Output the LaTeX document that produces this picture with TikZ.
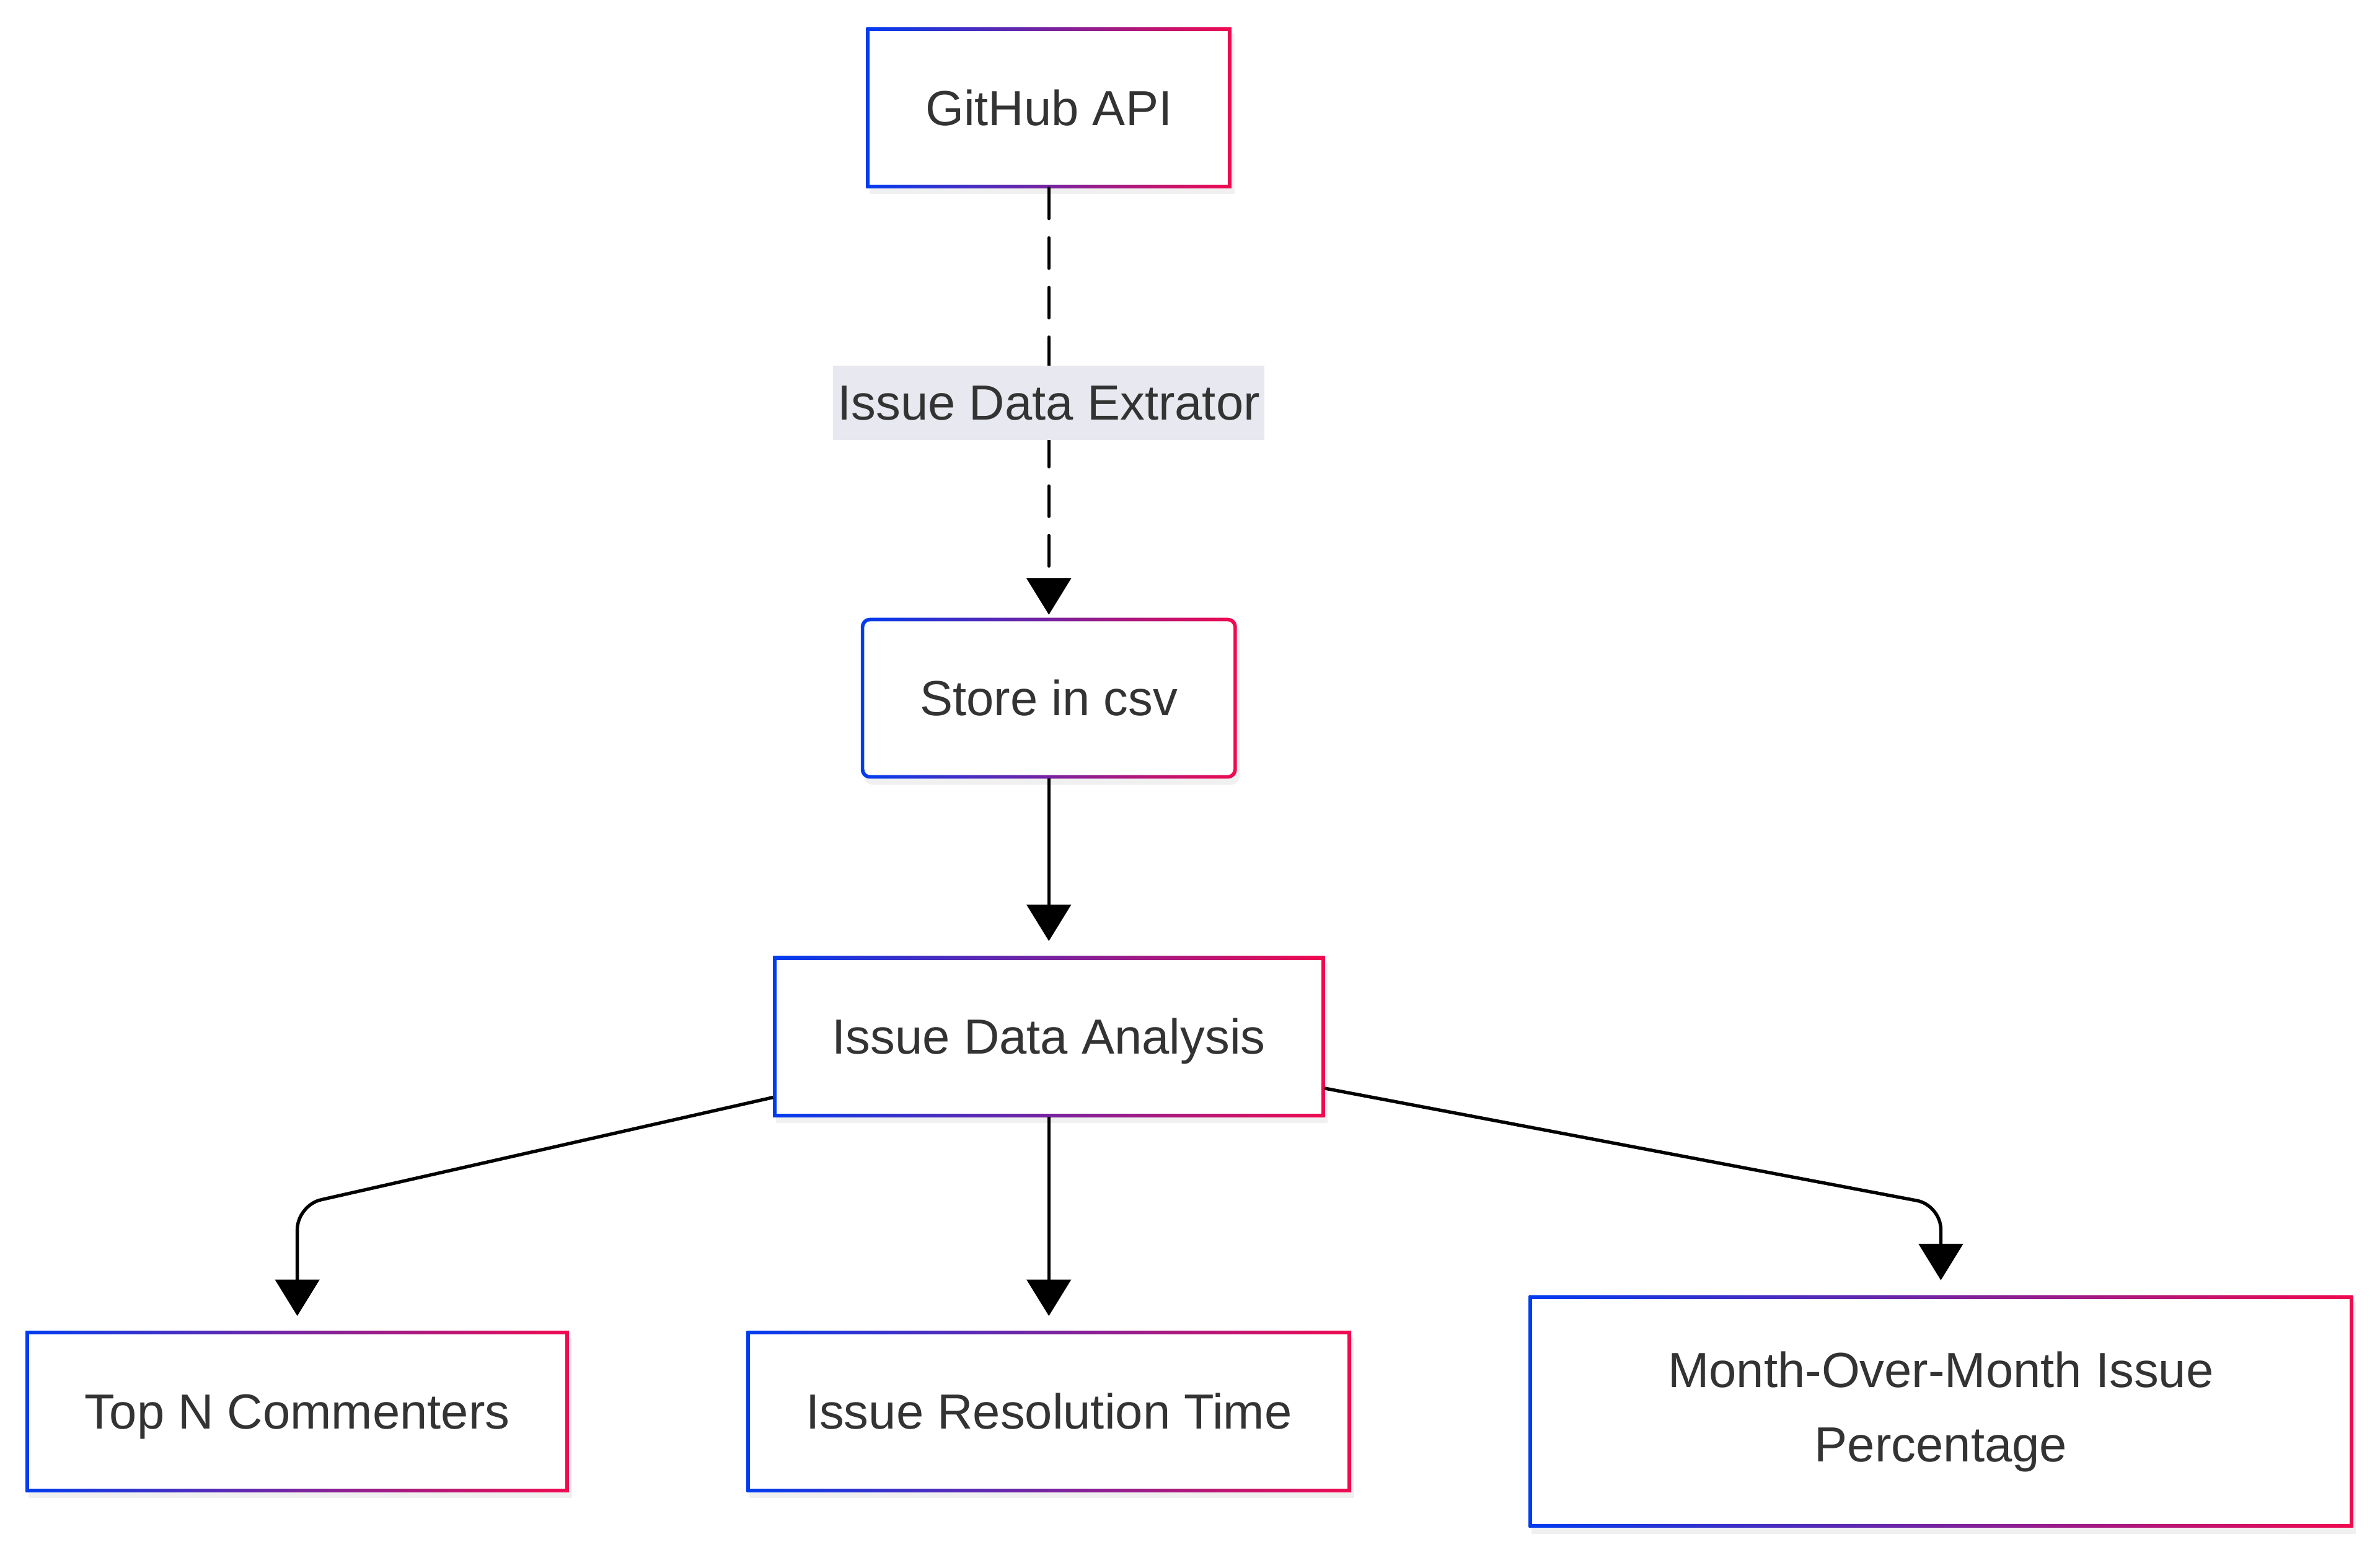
\documentclass[tikz,border=0pt]{standalone}
\usepackage{fontspec}
\setmainfont{Liberation Sans}
\usetikzlibrary{arrows.meta, positioning, shadows}

\definecolor{gblue}{RGB}{0,60,240}
\definecolor{gred}{RGB}{240,10,80}
\definecolor{textgray}{RGB}{51,51,51}
\definecolor{labelbg}{RGB}{232,232,240}
\newcommand\boxfont{\fontsize{32.5pt}{49pt}\selectfont}

\begin{document}
\begin{tikzpicture}[->,>={Triangle[length=24pt,width=29pt]},line width=2.2pt,
  box node/.style={rectangle,left color=gblue,right color=gred,minimum height=106pt,
    inner xsep=39pt,outer sep=0pt,text=textgray,font=\boxfont,text height=26.5pt,text depth=3.5pt,
    drop shadow={shadow xshift=2pt,shadow yshift=-4pt,opacity=0.12},
    path picture={\fill[white,-] ([shift={(2.3pt,2.3pt)}]path picture bounding box.south west)
      rectangle ([shift={(-2.3pt,-2.3pt)}]path picture bounding box.north east);}},
  round node/.style={box node,rounded corners=6pt,
    path picture={\fill[white,-,rounded corners=4pt] ([shift={(2.3pt,2.3pt)}]path picture bounding box.south west)
      rectangle ([shift={(-2.3pt,-2.3pt)}]path picture bounding box.north east);}},
  label node/.style={fill=labelbg,text=textgray,font=\boxfont,inner xsep=3pt,minimum height=49pt}]
  \useasboundingbox (0,0) rectangle (1568pt,-1024.5pt);

  \node[box node] (api) at (691pt,-71pt) {GitHub API};
  \node[round node, below=283pt of api] (store) {Store in csv};
  \node[box node, below=117pt of store] (ana) {Issue Data Analysis};
  \node[box node, below=141pt of ana] (res) {Issue Resolution Time};
  \node[box node, left=117pt of res] (top) {Top N Commenters};
  \node[box node, right=117pt of res, minimum width=543pt, minimum height=153pt, align=center,
    text height=, text depth=] (mom) {Month-Over-Month Issue\\Percentage};

  \path[dash pattern=on 20pt off 12.7pt,line cap=round,shorten >=2pt]
    (api) edge node[label node,solid] {Issue Data Extrator} (store);
  \path[shorten >=10pt]
    (store) edge (ana)
    (ana) edge (res);

  % split below the analysis box
  \coordinate (fork) at ([yshift=-58pt]ana.south);
  \draw[rounded corners=16pt,shorten >=10pt] ([yshift=-40pt]ana.west) -- (fork -| top.north) -- (top.north);
  \draw[rounded corners=16pt,shorten >=10pt] ([yshift=-34pt]ana.east) -- (fork -| mom.north) -- (mom.north);
\end{tikzpicture}
\end{document}
